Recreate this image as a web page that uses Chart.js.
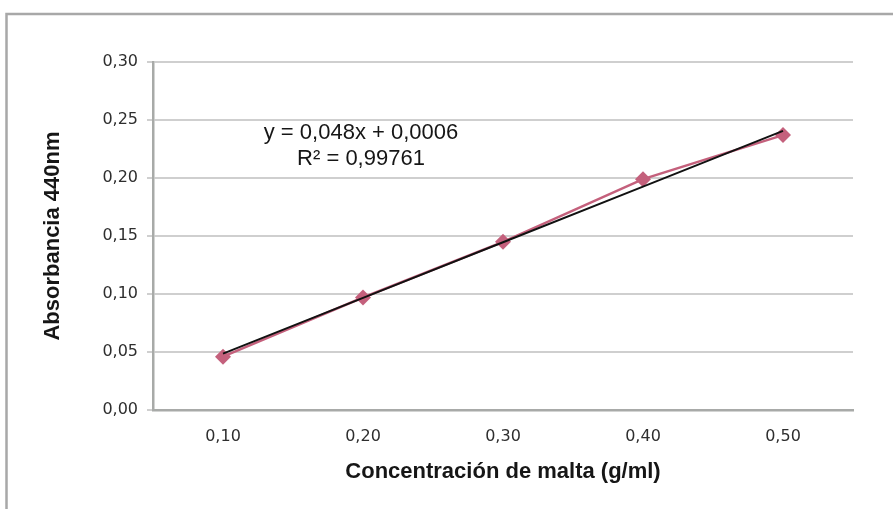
<!DOCTYPE html>
<html><head><meta charset="utf-8">
<script src="https://cdn.jsdelivr.net/npm/chart.js@4.4.1/dist/chart.umd.min.js"></script>
<style>html,body{margin:0;padding:0;background:#fff}#wrap{width:893px;height:509px}</style>
</head><body><div id="wrap"><canvas id="c" width="893" height="509"></canvas></div>
<script>
const categories = ['0,10','0,20','0,30','0,40','0,50'];
const absorbance = [0.046, 0.097, 0.145, 0.199, 0.237];
const trendSlope = 0.048;
const trendIntercept = 0.0006;
const trendLabel1 = 'y = 0,048x + 0,0006';
const trendLabel2 = 'R² = 0,99761';
const yTicksMin = 0, yTicksMax = 0.30, yStep = 0.05;
const trendValues = categories.map((c, i) => trendSlope * (i + 1) + trendIntercept);

const framePlugin = {
  id: 'frame',
  beforeDraw(chart) {
    const ctx = chart.ctx;
    ctx.save();
    ctx.fillStyle = '#fff';
    ctx.fillRect(0, 0, chart.width, chart.height);
    ctx.strokeStyle = '#a8a8a8';
    ctx.lineWidth = 2.5;
    ctx.beginPath();
    ctx.moveTo(6.5, chart.height + 5);
    ctx.lineTo(6.5, 14);
    ctx.lineTo(chart.width + 5, 14);
    ctx.stroke();
    ctx.restore();
  },
  afterDatasetsDraw(chart) {
    const ctx = chart.ctx;
    const xs = chart.scales.x, ys = chart.scales.y;
    const cx = xs.getPixelForValue(1) - 2;
    ctx.save();
    ctx.fillStyle = '#161616';
    ctx.font = '22px "Liberation Sans", Arial, sans-serif';
    ctx.textAlign = 'center';
    ctx.textBaseline = 'middle';
    ctx.fillText(trendLabel1, cx, ys.getPixelForValue(0.2385));
    ctx.fillText(trendLabel2, cx, ys.getPixelForValue(0.2165));
    ctx.restore();
  }
};

new Chart(document.getElementById('c'), {
  type: 'line',
  data: {
    labels: categories,
    datasets: [
      {
        label: 'Lineal',
        data: trendValues,
        borderColor: '#111',
        borderWidth: 2,
        pointRadius: 0,
        tension: 0,
        fill: false
      },
      {
        label: 'Absorbancia',
        data: absorbance,
        borderColor: '#c4607c',
        backgroundColor: '#c4607c',
        borderWidth: 2.5,
        pointStyle: 'rectRot',
        pointRadius: 8,
        pointBorderWidth: 0,
        tension: 0,
        fill: false
      }
    ]
  },
  options: {
    responsive: false,
    animation: false,
    devicePixelRatio: 1,
    layout: { padding: { left: 0, top: 62, right: 40, bottom: 0 } },
    plugins: { legend: { display: false }, tooltip: { enabled: false } },
    scales: {
      x: {
        type: 'category',
        offset: true,
        grid: { display: false, drawTicks: false },
        border: { display: true, color: '#a8aaa8', width: 2.5 },
        ticks: {
          color: '#2e2e2e',
          font: { family: '"DejaVu Sans", sans-serif', size: 16 },
          padding: 17,
          maxRotation: 0
        },
        title: {
          display: true,
          text: 'Concentración de malta (g/ml)',
          color: '#161616',
          font: { family: '"Liberation Sans", Arial, sans-serif', size: 22, weight: 'bold' },
          padding: { top: 0, bottom: 24 }
        },
        afterFit(s) { s.height = 99; }
      },
      y: {
        min: yTicksMin,
        max: yTicksMax,
        grid: { color: '#cfcfcf', lineWidth: 2, tickLength: 6, drawTicks: true },
        border: { display: true, color: '#a8aaa8', width: 2.5 },
        ticks: {
          stepSize: yStep,
          color: '#2e2e2e',
          font: { family: '"DejaVu Sans", sans-serif', size: 16 },
          padding: 9,
          callback: v => v.toFixed(2).replace('.', ',')
        },
        title: {
          display: true,
          text: 'Absorbancia 440nm',
          color: '#161616',
          font: { family: '"Liberation Sans", Arial, sans-serif', size: 22, weight: 'bold' },
          padding: { top: 40, bottom: 0 }
        },
        afterFit(s) { s.width = 153; }
      }
    }
  },
  plugins: [framePlugin]
});
</script></body></html>
